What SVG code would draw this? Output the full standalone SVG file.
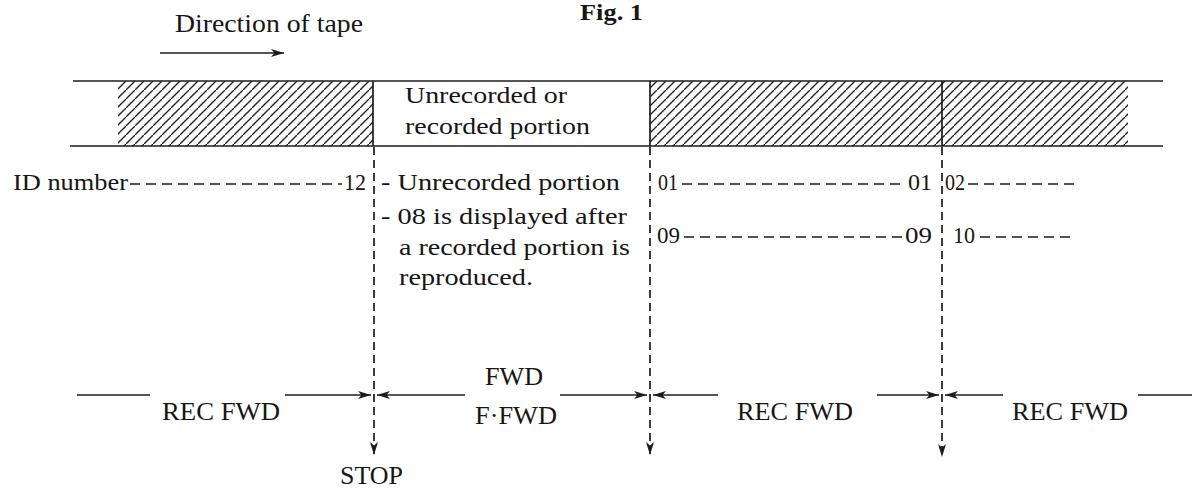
<svg xmlns="http://www.w3.org/2000/svg" width="1192" height="495" viewBox="0 0 1192 495">
<style>
text{font-family:"Liberation Serif","Times New Roman",serif;fill:#161616;font-size:24px}
.b{font-size:25px}
.tape{stroke:#1c1c1c;stroke-width:1.7;fill:none}
.ln{stroke:#1c1c1c;stroke-width:1.6;fill:none}
.vd{stroke:#1c1c1c;stroke-width:1.7;stroke-dasharray:8 5;fill:none}
.hd{stroke:#1c1c1c;stroke-width:1.6;stroke-dasharray:10 6;fill:none}
</style>
<defs>
<pattern id="hatch" patternUnits="userSpaceOnUse" width="9" height="9">
<path d="M-1,10 L10,-1 M-3,2 L2,-3 M7,12 L12,7" stroke="#222" stroke-width="1.4"/>
</pattern>
<marker id="ah" viewBox="0 0 13 8" refX="13" refY="4" markerWidth="13" markerHeight="8" markerUnits="userSpaceOnUse" orient="auto">
<path d="M0,0 L13,4 L0,8 L3.5,4 z" fill="#1c1c1c"/>
</marker>
</defs>
<rect width="1192" height="495" fill="#fff"/>

<g id="title">
<text x="580" y="20" font-weight="bold" font-size="22" textLength="63" lengthAdjust="spacingAndGlyphs">Fig. 1</text>
</g>
<g id="direction">
<text x="175" y="32" class="b" textLength="188" lengthAdjust="spacingAndGlyphs">Direction of tape</text>
<line x1="160" y1="53" x2="284" y2="53" class="ln" marker-end="url(#ah)"/>
</g>

<g id="tape">
<rect x="118" y="81" width="255" height="65" fill="url(#hatch)"/>
<rect x="650" y="81" width="292" height="65" fill="url(#hatch)"/>
<rect x="942" y="81" width="186" height="65" fill="url(#hatch)"/>
<line x1="73" y1="81" x2="1163" y2="81" class="tape"/>
<line x1="70" y1="146" x2="1163" y2="146" class="tape"/>
<line x1="373" y1="81" x2="373" y2="146" class="tape"/>
<line x1="650" y1="81" x2="650" y2="146" class="tape"/>
<line x1="942" y1="81" x2="942" y2="146" class="tape"/>
<text x="405" y="103" textLength="162" lengthAdjust="spacingAndGlyphs">Unrecorded or</text>
<text x="405" y="134" textLength="185" lengthAdjust="spacingAndGlyphs">recorded portion</text>
</g>

<g id="id-numbers">
<text x="13" y="190" textLength="115" lengthAdjust="spacingAndGlyphs">ID number</text>
<text x="344" y="190" textLength="22" lengthAdjust="spacingAndGlyphs">12</text>
<text x="381" y="190" textLength="239" lengthAdjust="spacingAndGlyphs">- Unrecorded portion</text>
<text x="381" y="224" textLength="246" lengthAdjust="spacingAndGlyphs">- 08 is displayed after</text>
<text x="399" y="255" textLength="231" lengthAdjust="spacingAndGlyphs">a recorded portion is</text>
<text x="399" y="285" textLength="134" lengthAdjust="spacingAndGlyphs">reproduced.</text>
<text x="658" y="190" textLength="20" lengthAdjust="spacingAndGlyphs">01</text>
<text x="908" y="190" textLength="24" lengthAdjust="spacingAndGlyphs">01</text>
<text x="945" y="190" textLength="20" lengthAdjust="spacingAndGlyphs">02</text>
<text x="657" y="243" textLength="23" lengthAdjust="spacingAndGlyphs">09</text>
<text x="905" y="243" textLength="27" lengthAdjust="spacingAndGlyphs">09</text>
<text x="953" y="243" textLength="22" lengthAdjust="spacingAndGlyphs">10</text>
</g>

<g id="modes">
<text x="162" y="420" class="b" textLength="118" lengthAdjust="spacingAndGlyphs">REC FWD</text>
<text x="485" y="385" class="b" textLength="58" lengthAdjust="spacingAndGlyphs">FWD</text>
<text x="475" y="424" class="b" textLength="82" lengthAdjust="spacingAndGlyphs">F·FWD</text>
<text x="737" y="420" class="b" textLength="116" lengthAdjust="spacingAndGlyphs">REC FWD</text>
<text x="1012" y="420" class="b" textLength="116" lengthAdjust="spacingAndGlyphs">REC FWD</text>
<text x="340" y="484" class="b" textLength="63" lengthAdjust="spacingAndGlyphs">STOP</text>
</g>

<g id="connectors">
<line x1="374" y1="147" x2="374" y2="455" class="vd" marker-end="url(#ah)"/>
<line x1="650" y1="147" x2="650" y2="455" class="vd" marker-end="url(#ah)"/>
<line x1="942" y1="147" x2="942" y2="457" class="vd" marker-end="url(#ah)"/>
<line x1="130" y1="184" x2="342" y2="184" class="hd"/>
<line x1="682" y1="184" x2="902" y2="184" class="hd"/>
<line x1="968" y1="184" x2="1075" y2="184" class="hd"/>
<line x1="684" y1="237" x2="903" y2="237" class="hd"/>
<line x1="980" y1="237" x2="1075" y2="237" class="hd"/>
<line x1="77" y1="395" x2="150" y2="395" class="ln"/>
<line x1="285" y1="395" x2="371" y2="395" class="ln" marker-end="url(#ah)"/>
<line x1="465" y1="395" x2="377" y2="395" class="ln" marker-end="url(#ah)"/>
<line x1="560" y1="395" x2="647" y2="395" class="ln" marker-end="url(#ah)"/>
<line x1="718" y1="395" x2="653" y2="395" class="ln" marker-end="url(#ah)"/>
<line x1="877" y1="395" x2="939" y2="395" class="ln" marker-end="url(#ah)"/>
<line x1="1003" y1="395" x2="945" y2="395" class="ln" marker-end="url(#ah)"/>
<line x1="1138" y1="395" x2="1192" y2="395" class="ln"/>
</g>
</svg>
